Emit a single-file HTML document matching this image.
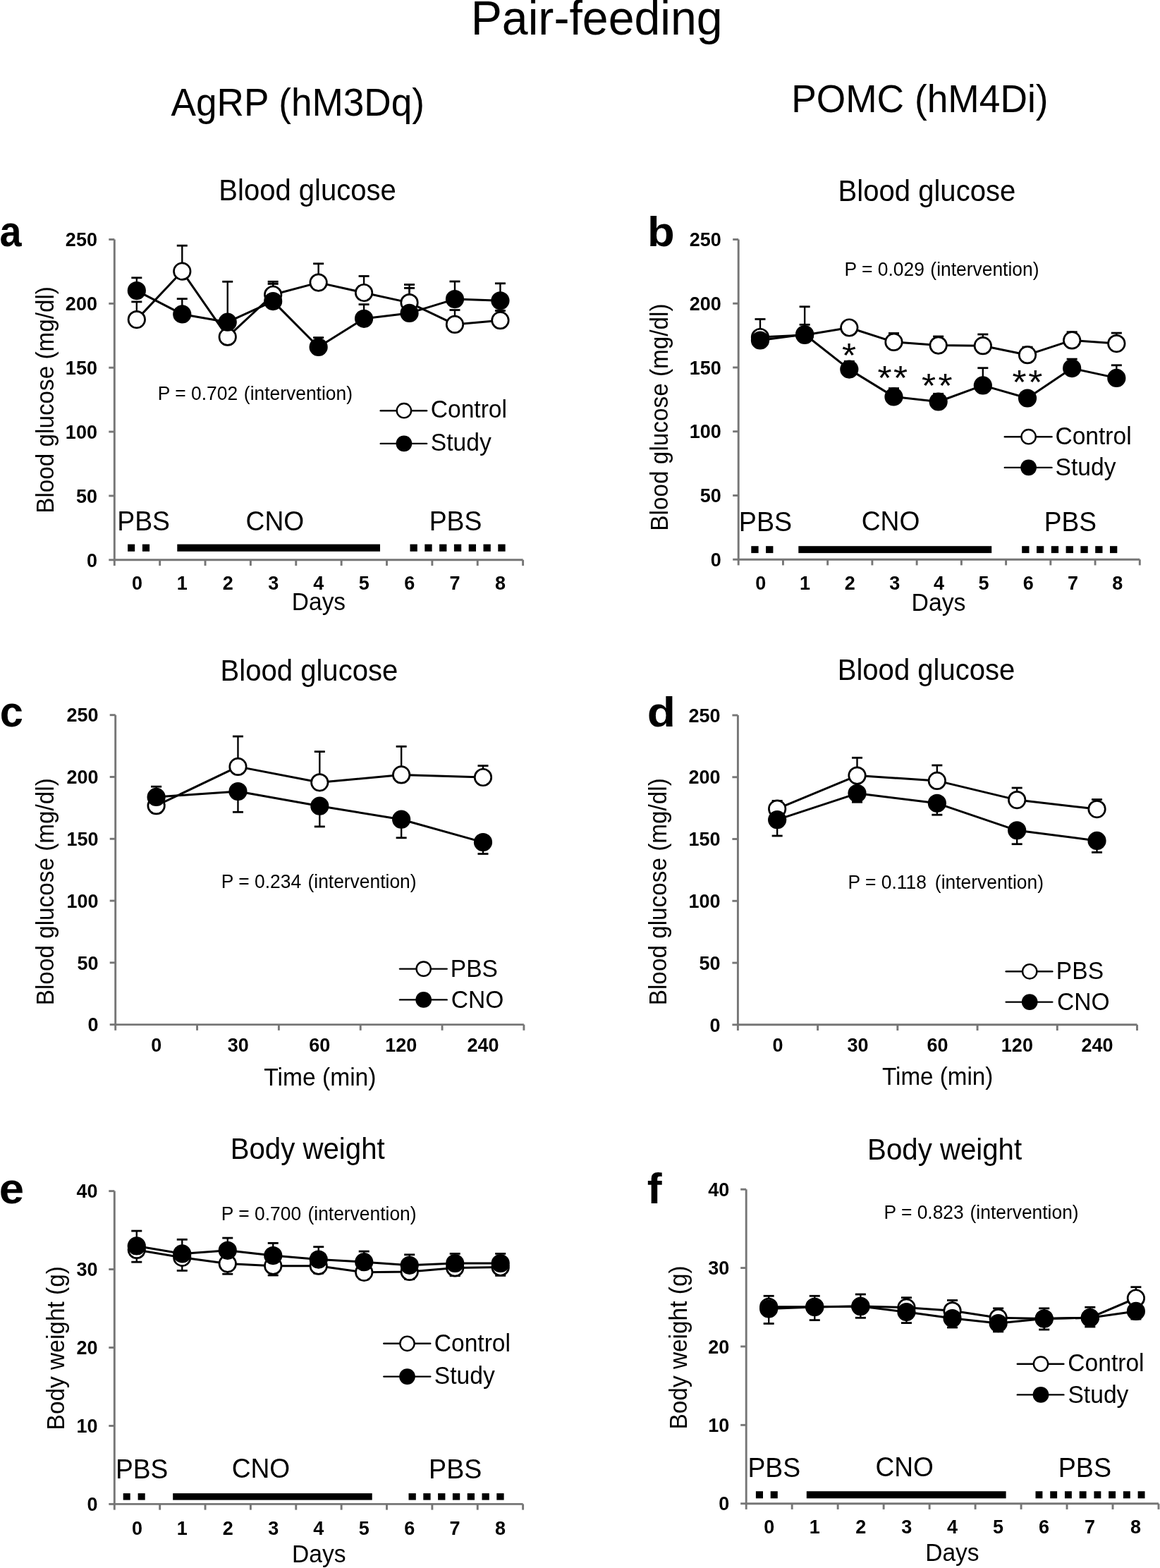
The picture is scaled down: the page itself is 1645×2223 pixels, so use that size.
<!DOCTYPE html><html><head><meta charset="utf-8"><style>html,body{margin:0;padding:0;background:#fff;width:1645px;height:2223px;overflow:hidden;}svg{display:block;}text{font-family:"Liberation Sans",Arial,Helvetica,sans-serif;fill:#000;}</style></head><body>
<svg width="1645" height="2223" viewBox="0 0 1645 2223">
<rect width="1645" height="2223" fill="#fff"/>
<text transform="translate(667.67 48.9) scale(1 1.0450)" font-size="66.22">Pair-feeding</text>
<text transform="translate(242.49 163.5) scale(1 1.0450)" font-size="53.19">AgRP (hM3Dq)</text>
<text transform="translate(1122.13 159.4) scale(1 1.0450)" font-size="53.33">POMC (hM4Di)</text>
<text transform="translate(310.32 283.8) scale(1 1.0450)" font-size="40.04">Blood glucose</text>
<text transform="translate(-0.42 349.49) scale(0.9156 1)" font-size="60.95" font-weight="bold">a</text>
<rect x="181.1" y="771.6" width="10.1" height="10.2"/>
<rect x="201.9" y="771.6" width="10.2" height="10.2"/>
<rect x="581.5" y="771.6" width="10.3" height="10.2"/>
<rect x="602.3" y="771.6" width="10.3" height="10.2"/>
<rect x="623.1" y="771.6" width="10.3" height="10.2"/>
<rect x="643.9" y="771.6" width="10.3" height="10.2"/>
<rect x="664.7" y="771.6" width="10.3" height="10.2"/>
<rect x="685.5" y="771.6" width="10.3" height="10.2"/>
<rect x="706.3" y="771.6" width="10.3" height="10.2"/>
<rect x="251.3" y="771.6" width="287.7" height="10.2"/>
<g stroke="#767676" stroke-width="2.9" fill="none">
<path d="M162.3 339.5V793.8H741.6"/>
<path d="M154.3 793.8H162.3"/>
<path d="M154.3 702.94H162.3"/>
<path d="M154.3 612.08H162.3"/>
<path d="M154.3 521.22H162.3"/>
<path d="M154.3 430.36H162.3"/>
<path d="M154.3 339.5H162.3"/>
<path d="M162.3 793.8V802"/>
<path d="M226.67 793.8V802"/>
<path d="M291.03 793.8V802"/>
<path d="M355.4 793.8V802"/>
<path d="M419.77 793.8V802"/>
<path d="M484.13 793.8V802"/>
<path d="M548.5 793.8V802"/>
<path d="M612.87 793.8V802"/>
<path d="M677.23 793.8V802"/>
<path d="M741.6 793.8V802"/>
</g>
<text transform="translate(122.9 803.51) scale(1 1.0450)" font-size="27" font-weight="bold">0</text>
<text transform="translate(107.88 712.65) scale(1 1.0450)" font-size="27" font-weight="bold">50</text>
<text transform="translate(92.87 621.79) scale(1 1.0450)" font-size="27" font-weight="bold">100</text>
<text transform="translate(92.87 530.93) scale(1 1.0450)" font-size="27" font-weight="bold">150</text>
<text transform="translate(92.87 440.07) scale(1 1.0450)" font-size="27" font-weight="bold">200</text>
<text transform="translate(92.87 349.21) scale(1 1.0450)" font-size="27" font-weight="bold">250</text>
<text transform="translate(186.99 836.4) scale(1 1.0450)" font-size="27" font-weight="bold">0</text>
<text transform="translate(250.87 836.4) scale(1 1.0450)" font-size="27" font-weight="bold">1</text>
<text transform="translate(315.78 836.4) scale(1 1.0450)" font-size="27" font-weight="bold">2</text>
<text transform="translate(380.25 836.4) scale(1 1.0450)" font-size="27" font-weight="bold">3</text>
<text transform="translate(444.31 836.4) scale(1 1.0450)" font-size="27" font-weight="bold">4</text>
<text transform="translate(508.77 836.4) scale(1 1.0450)" font-size="27" font-weight="bold">5</text>
<text transform="translate(573.16 836.4) scale(1 1.0450)" font-size="27" font-weight="bold">6</text>
<text transform="translate(637.56 836.4) scale(1 1.0450)" font-size="27" font-weight="bold">7</text>
<text transform="translate(701.9 836.4) scale(1 1.0450)" font-size="27" font-weight="bold">8</text>
<text transform="translate(413.86 864.9) scale(1 1.0450)" font-size="33.47">Days</text>
<text transform="translate(75.9 727.73) rotate(-90) scale(1 1.0450)" font-size="33.28">Blood glucose (mg/dl)</text>
<text transform="translate(223.84 567.1) scale(1 1.0450)" font-size="26.4">P = 0.702</text>
<text transform="translate(345.87 567.1) scale(1 1.0450)" font-size="26.4">(intervention)</text>
<text transform="translate(166.24 751.6) scale(1 1.0450)" font-size="37.37">PBS</text>
<text transform="translate(348.6 751.6) scale(1 1.0450)" font-size="37.21">CNO</text>
<text transform="translate(608.64 751.8) scale(1 1.0450)" font-size="37.37">PBS</text>
<polyline points="193.83,453.1 258.28,384.7 322.73,477.7 387.18,417.75 451.63,400.6 516.08,415 580.53,429.1 644.98,459.9 709.43,454.2" fill="none" stroke="#000" stroke-width="3.0" stroke-linejoin="round"/>
<polyline points="193.83,412.1 258.28,445.4 322.73,456.7 387.18,427.1 451.63,492 516.08,451.8 580.53,443.9 644.98,424.1 709.43,426.3" fill="none" stroke="#000" stroke-width="3.0" stroke-linejoin="round"/>
<line x1="193.83" y1="453.1" x2="193.83" y2="427.9" stroke="#000" stroke-width="2.4"/>
<rect x="186.33" y="426.5" width="15" height="2.8"/>
<line x1="258.28" y1="384.7" x2="258.28" y2="348.2" stroke="#000" stroke-width="2.4"/>
<rect x="250.78" y="346.8" width="15" height="2.8"/>
<line x1="322.73" y1="477.7" x2="322.73" y2="399.3" stroke="#000" stroke-width="2.4"/>
<rect x="315.23" y="397.9" width="15" height="2.8"/>
<line x1="387.18" y1="417.75" x2="387.18" y2="399.3" stroke="#000" stroke-width="2.4"/>
<rect x="379.68" y="397.9" width="15" height="2.8"/>
<line x1="451.63" y1="400.6" x2="451.63" y2="373.8" stroke="#000" stroke-width="2.4"/>
<rect x="444.13" y="372.4" width="15" height="2.8"/>
<line x1="516.08" y1="415" x2="516.08" y2="391.5" stroke="#000" stroke-width="2.4"/>
<rect x="508.58" y="390.1" width="15" height="2.8"/>
<line x1="580.53" y1="429.1" x2="580.53" y2="403.5" stroke="#000" stroke-width="2.4"/>
<rect x="573.03" y="402.1" width="15" height="2.8"/>
<line x1="644.98" y1="459.9" x2="644.98" y2="439.5" stroke="#000" stroke-width="2.4"/>
<rect x="637.48" y="438.1" width="15" height="2.8"/>
<line x1="709.43" y1="454.2" x2="709.43" y2="440.5" stroke="#000" stroke-width="2.4"/>
<rect x="701.93" y="439.1" width="15" height="2.8"/>
<line x1="193.83" y1="412.1" x2="193.83" y2="393.8" stroke="#000" stroke-width="2.4"/>
<rect x="186.33" y="392.4" width="15" height="2.8"/>
<line x1="258.28" y1="445.4" x2="258.28" y2="423.6" stroke="#000" stroke-width="2.4"/>
<rect x="250.78" y="422.2" width="15" height="2.8"/>
<line x1="387.18" y1="427.1" x2="387.18" y2="402.4" stroke="#000" stroke-width="2.4"/>
<rect x="379.68" y="401" width="15" height="2.8"/>
<line x1="451.63" y1="492" x2="451.63" y2="478.6" stroke="#000" stroke-width="2.4"/>
<rect x="444.13" y="477.2" width="15" height="2.8"/>
<line x1="516.08" y1="451.8" x2="516.08" y2="431.6" stroke="#000" stroke-width="2.4"/>
<rect x="508.58" y="430.2" width="15" height="2.8"/>
<line x1="580.53" y1="443.9" x2="580.53" y2="408.4" stroke="#000" stroke-width="2.4"/>
<rect x="573.03" y="407" width="15" height="2.8"/>
<line x1="644.98" y1="424.1" x2="644.98" y2="399" stroke="#000" stroke-width="2.4"/>
<rect x="637.48" y="397.6" width="15" height="2.8"/>
<line x1="709.43" y1="426.3" x2="709.43" y2="401.8" stroke="#000" stroke-width="2.4"/>
<rect x="701.93" y="400.4" width="15" height="2.8"/>
<circle cx="193.83" cy="453.1" r="11.75" fill="#fff" stroke="#000" stroke-width="2.7"/>
<circle cx="258.28" cy="384.7" r="11.75" fill="#fff" stroke="#000" stroke-width="2.7"/>
<circle cx="322.73" cy="477.7" r="11.75" fill="#fff" stroke="#000" stroke-width="2.7"/>
<circle cx="387.18" cy="417.75" r="11.75" fill="#fff" stroke="#000" stroke-width="2.7"/>
<circle cx="451.63" cy="400.6" r="11.75" fill="#fff" stroke="#000" stroke-width="2.7"/>
<circle cx="516.08" cy="415" r="11.75" fill="#fff" stroke="#000" stroke-width="2.7"/>
<circle cx="580.53" cy="429.1" r="11.75" fill="#fff" stroke="#000" stroke-width="2.7"/>
<circle cx="644.98" cy="459.9" r="11.75" fill="#fff" stroke="#000" stroke-width="2.7"/>
<circle cx="709.43" cy="454.2" r="11.75" fill="#fff" stroke="#000" stroke-width="2.7"/>
<circle cx="193.83" cy="412.1" r="13.1"/>
<circle cx="258.28" cy="445.4" r="13.1"/>
<circle cx="322.73" cy="456.7" r="13.1"/>
<circle cx="387.18" cy="427.1" r="13.1"/>
<circle cx="451.63" cy="492" r="13.1"/>
<circle cx="516.08" cy="451.8" r="13.1"/>
<circle cx="580.53" cy="443.9" r="13.1"/>
<circle cx="644.98" cy="424.1" r="13.1"/>
<circle cx="709.43" cy="426.3" r="13.1"/>
<line x1="539.7" y1="582.2" x2="605.1" y2="582.2" stroke="#000" stroke-width="2.4" stroke-linecap="round"/>
<circle cx="572.9" cy="582.2" r="10.15" fill="#fff" stroke="#000" stroke-width="2.4"/>
<text transform="translate(610.69 592.3) scale(1 1.0450)" font-size="33.6">Control</text>
<line x1="539.7" y1="628.9" x2="605.1" y2="628.9" stroke="#000" stroke-width="2.4" stroke-linecap="round"/>
<circle cx="572.9" cy="628.9" r="11.35"/>
<text transform="translate(610.85 639) scale(1 1.0450)" font-size="33.6">Study</text>
<text transform="translate(1188.61 284.7) scale(1 1.0450)" font-size="40.07">Blood glucose</text>
<text transform="translate(918.02 349.21) scale(1.0645 1)" font-size="59.46" font-weight="bold">b</text>
<rect x="1065.3" y="774.2" width="10.3" height="9.9"/>
<rect x="1086.1" y="774.2" width="10.3" height="9.9"/>
<rect x="1449.2" y="774.2" width="10.3" height="9.9"/>
<rect x="1470" y="774.2" width="10.3" height="9.9"/>
<rect x="1490.8" y="774.2" width="10.3" height="9.9"/>
<rect x="1511.6" y="774.2" width="10.3" height="9.9"/>
<rect x="1532.4" y="774.2" width="10.3" height="9.9"/>
<rect x="1553.2" y="774.2" width="10.3" height="9.9"/>
<rect x="1574" y="774.2" width="10.3" height="9.9"/>
<rect x="1132.3" y="774.2" width="273.9" height="9.9"/>
<g stroke="#767676" stroke-width="2.9" fill="none">
<path d="M1047.2 339.5V793.2H1616.3"/>
<path d="M1039.2 793.2H1047.2"/>
<path d="M1039.2 702.46H1047.2"/>
<path d="M1039.2 611.72H1047.2"/>
<path d="M1039.2 520.98H1047.2"/>
<path d="M1039.2 430.24H1047.2"/>
<path d="M1039.2 339.5H1047.2"/>
<path d="M1047.2 793.2V801.4"/>
<path d="M1110.43 793.2V801.4"/>
<path d="M1173.67 793.2V801.4"/>
<path d="M1236.9 793.2V801.4"/>
<path d="M1300.13 793.2V801.4"/>
<path d="M1363.37 793.2V801.4"/>
<path d="M1426.6 793.2V801.4"/>
<path d="M1489.83 793.2V801.4"/>
<path d="M1553.07 793.2V801.4"/>
<path d="M1616.3 793.2V801.4"/>
</g>
<text transform="translate(1007.69 802.91) scale(1 1.0450)" font-size="27" font-weight="bold">0</text>
<text transform="translate(992.68 712.17) scale(1 1.0450)" font-size="27" font-weight="bold">50</text>
<text transform="translate(977.67 621.43) scale(1 1.0450)" font-size="27" font-weight="bold">100</text>
<text transform="translate(977.67 530.69) scale(1 1.0450)" font-size="27" font-weight="bold">150</text>
<text transform="translate(977.67 439.95) scale(1 1.0450)" font-size="27" font-weight="bold">200</text>
<text transform="translate(977.67 349.21) scale(1 1.0450)" font-size="27" font-weight="bold">250</text>
<text transform="translate(1071.32 836.3) scale(1 1.0450)" font-size="27" font-weight="bold">0</text>
<text transform="translate(1134.07 836.3) scale(1 1.0450)" font-size="27" font-weight="bold">1</text>
<text transform="translate(1197.84 836.3) scale(1 1.0450)" font-size="27" font-weight="bold">2</text>
<text transform="translate(1261.19 836.3) scale(1 1.0450)" font-size="27" font-weight="bold">3</text>
<text transform="translate(1324.11 836.3) scale(1 1.0450)" font-size="27" font-weight="bold">4</text>
<text transform="translate(1387.44 836.3) scale(1 1.0450)" font-size="27" font-weight="bold">5</text>
<text transform="translate(1450.7 836.3) scale(1 1.0450)" font-size="27" font-weight="bold">6</text>
<text transform="translate(1513.96 836.3) scale(1 1.0450)" font-size="27" font-weight="bold">7</text>
<text transform="translate(1577.16 836.3) scale(1 1.0450)" font-size="27" font-weight="bold">8</text>
<text transform="translate(1292.53 865.8) scale(1 1.0450)" font-size="33.8">Days</text>
<text transform="translate(947.1 752.63) rotate(-90) scale(1 1.0450)" font-size="33.33">Blood glucose (mg/dl)</text>
<text transform="translate(1197.54 391) scale(1 1.0450)" font-size="26.4">P = 0.029</text>
<text transform="translate(1319.37 391) scale(1 1.0450)" font-size="26.4">(intervention)</text>
<text transform="translate(1047.81 752.8) scale(1 1.0450)" font-size="37.69">PBS</text>
<text transform="translate(1221.7 752.3) scale(1 1.0450)" font-size="37.21">CNO</text>
<text transform="translate(1480.86 753.4) scale(1 1.0450)" font-size="37.11">PBS</text>
<polyline points="1077.98,478 1141.15,475 1204.32,464.5 1267.49,484.9 1330.66,489.6 1393.83,490.2 1457,503.2 1520.17,482.4 1583.34,487.1" fill="none" stroke="#000" stroke-width="3.0" stroke-linejoin="round"/>
<polyline points="1077.98,482.5 1141.15,474 1204.32,523.6 1267.49,562.4 1330.66,569.5 1393.83,546.4 1457,564.5 1520.17,522.1 1583.34,535.9" fill="none" stroke="#000" stroke-width="3.0" stroke-linejoin="round"/>
<line x1="1077.98" y1="478" x2="1077.98" y2="452.5" stroke="#000" stroke-width="2.4"/>
<rect x="1070.48" y="451.1" width="15" height="2.8"/>
<line x1="1141.15" y1="475" x2="1141.15" y2="434.8" stroke="#000" stroke-width="2.4"/>
<rect x="1133.65" y="433.4" width="15" height="2.8"/>
<line x1="1267.49" y1="484.9" x2="1267.49" y2="472.5" stroke="#000" stroke-width="2.4"/>
<rect x="1259.99" y="471.1" width="15" height="2.8"/>
<line x1="1330.66" y1="489.6" x2="1330.66" y2="477" stroke="#000" stroke-width="2.4"/>
<rect x="1323.16" y="475.6" width="15" height="2.8"/>
<line x1="1393.83" y1="490.2" x2="1393.83" y2="474" stroke="#000" stroke-width="2.4"/>
<rect x="1386.33" y="472.6" width="15" height="2.8"/>
<line x1="1457" y1="503.2" x2="1457" y2="492.1" stroke="#000" stroke-width="2.4"/>
<rect x="1449.5" y="490.7" width="15" height="2.8"/>
<line x1="1520.17" y1="482.4" x2="1520.17" y2="470.7" stroke="#000" stroke-width="2.4"/>
<rect x="1512.67" y="469.3" width="15" height="2.8"/>
<line x1="1583.34" y1="487.1" x2="1583.34" y2="472.1" stroke="#000" stroke-width="2.4"/>
<rect x="1575.84" y="470.7" width="15" height="2.8"/>
<line x1="1141.15" y1="474" x2="1141.15" y2="460.3" stroke="#000" stroke-width="2.4"/>
<rect x="1133.65" y="458.9" width="15" height="2.8"/>
<line x1="1204.32" y1="523.6" x2="1204.32" y2="512.3" stroke="#000" stroke-width="2.4"/>
<rect x="1196.82" y="510.9" width="15" height="2.8"/>
<line x1="1267.49" y1="562.4" x2="1267.49" y2="550.6" stroke="#000" stroke-width="2.4"/>
<rect x="1259.99" y="549.2" width="15" height="2.8"/>
<line x1="1330.66" y1="569.5" x2="1330.66" y2="558.3" stroke="#000" stroke-width="2.4"/>
<rect x="1323.16" y="556.9" width="15" height="2.8"/>
<line x1="1393.83" y1="546.4" x2="1393.83" y2="521.7" stroke="#000" stroke-width="2.4"/>
<rect x="1386.33" y="520.3" width="15" height="2.8"/>
<line x1="1520.17" y1="522.1" x2="1520.17" y2="509.1" stroke="#000" stroke-width="2.4"/>
<rect x="1512.67" y="507.7" width="15" height="2.8"/>
<line x1="1583.34" y1="535.9" x2="1583.34" y2="517.8" stroke="#000" stroke-width="2.4"/>
<rect x="1575.84" y="516.4" width="15" height="2.8"/>
<circle cx="1077.98" cy="478" r="11.75" fill="#fff" stroke="#000" stroke-width="2.7"/>
<circle cx="1141.15" cy="475" r="11.75" fill="#fff" stroke="#000" stroke-width="2.7"/>
<circle cx="1204.32" cy="464.5" r="11.75" fill="#fff" stroke="#000" stroke-width="2.7"/>
<circle cx="1267.49" cy="484.9" r="11.75" fill="#fff" stroke="#000" stroke-width="2.7"/>
<circle cx="1330.66" cy="489.6" r="11.75" fill="#fff" stroke="#000" stroke-width="2.7"/>
<circle cx="1393.83" cy="490.2" r="11.75" fill="#fff" stroke="#000" stroke-width="2.7"/>
<circle cx="1457" cy="503.2" r="11.75" fill="#fff" stroke="#000" stroke-width="2.7"/>
<circle cx="1520.17" cy="482.4" r="11.75" fill="#fff" stroke="#000" stroke-width="2.7"/>
<circle cx="1583.34" cy="487.1" r="11.75" fill="#fff" stroke="#000" stroke-width="2.7"/>
<circle cx="1077.98" cy="482.5" r="13.1"/>
<circle cx="1141.15" cy="474" r="13.1"/>
<circle cx="1204.32" cy="523.6" r="13.1"/>
<circle cx="1267.49" cy="562.4" r="13.1"/>
<circle cx="1330.66" cy="569.5" r="13.1"/>
<circle cx="1393.83" cy="546.4" r="13.1"/>
<circle cx="1457" cy="564.5" r="13.1"/>
<circle cx="1520.17" cy="522.1" r="13.1"/>
<circle cx="1583.34" cy="535.9" r="13.1"/>
<line x1="1424.8" y1="619.2" x2="1491.5" y2="619.2" stroke="#000" stroke-width="2.4" stroke-linecap="round"/>
<circle cx="1458.6" cy="619.2" r="10.15" fill="#fff" stroke="#000" stroke-width="2.4"/>
<text transform="translate(1496.39 630.1) scale(1 1.0450)" font-size="33.6">Control</text>
<line x1="1424.8" y1="662.9" x2="1491.5" y2="662.9" stroke="#000" stroke-width="2.4" stroke-linecap="round"/>
<circle cx="1458.6" cy="662.9" r="11.35"/>
<text transform="translate(1496.55 673.9) scale(1 1.0450)" font-size="33.6">Study</text>
<text transform="translate(1193.88 519.73) scale(1 0.9239)" font-size="51.5" letter-spacing="0">*</text>
<text transform="translate(1244.38 551.53) scale(1 0.9239)" font-size="51.5" letter-spacing="2.67">**</text>
<text transform="translate(1306.98 562.63) scale(1 0.9239)" font-size="51.5" letter-spacing="3.37">**</text>
<text transform="translate(1435.38 558.13) scale(1 0.9239)" font-size="51.5" letter-spacing="2.77">**</text>
<text transform="translate(312.61 964.7) scale(1 1.0450)" font-size="40.07">Blood glucose</text>
<text transform="translate(-0.33 1030.4) scale(0.9872 1)" font-size="60.4" font-weight="bold">c</text>
<g stroke="#767676" stroke-width="2.9" fill="none">
<path d="M163.7 1013.7V1452.6H742.9"/>
<path d="M155.7 1452.6H163.7"/>
<path d="M155.7 1364.82H163.7"/>
<path d="M155.7 1277.04H163.7"/>
<path d="M155.7 1189.26H163.7"/>
<path d="M155.7 1101.48H163.7"/>
<path d="M155.7 1013.7H163.7"/>
<path d="M163.7 1452.6V1460.8"/>
<path d="M279.54 1452.6V1460.8"/>
<path d="M395.38 1452.6V1460.8"/>
<path d="M511.22 1452.6V1460.8"/>
<path d="M627.06 1452.6V1460.8"/>
<path d="M742.9 1452.6V1460.8"/>
</g>
<text transform="translate(124.59 1462.31) scale(1 1.0450)" font-size="27" font-weight="bold">0</text>
<text transform="translate(109.58 1374.53) scale(1 1.0450)" font-size="27" font-weight="bold">50</text>
<text transform="translate(94.57 1286.75) scale(1 1.0450)" font-size="27" font-weight="bold">100</text>
<text transform="translate(94.57 1198.97) scale(1 1.0450)" font-size="27" font-weight="bold">150</text>
<text transform="translate(94.57 1111.19) scale(1 1.0450)" font-size="27" font-weight="bold">200</text>
<text transform="translate(94.57 1023.41) scale(1 1.0450)" font-size="27" font-weight="bold">250</text>
<text transform="translate(214.13 1491.2) scale(1 1.0450)" font-size="27" font-weight="bold">0</text>
<text transform="translate(322.69 1491.2) scale(1 1.0450)" font-size="27" font-weight="bold">30</text>
<text transform="translate(438.34 1491.2) scale(1 1.0450)" font-size="27" font-weight="bold">60</text>
<text transform="translate(546.33 1491.2) scale(1 1.0450)" font-size="27" font-weight="bold">120</text>
<text transform="translate(662.54 1491.2) scale(1 1.0450)" font-size="27" font-weight="bold">240</text>
<text transform="translate(374.36 1539) scale(1 1.0450)" font-size="33.57">Time (min)</text>
<text transform="translate(76.1 1425.23) rotate(-90) scale(1 1.0450)" font-size="33.31">Blood glucose (mg/dl)</text>
<text transform="translate(313.84 1258.8) scale(1 1.0450)" font-size="26.4">P = 0.234</text>
<text transform="translate(436.47 1258.8) scale(1 1.0450)" font-size="26.4">(intervention)</text>
<polyline points="221.62,1142.2 337.46,1086.9 453.3,1109.3 569.14,1098.4 684.98,1102" fill="none" stroke="#000" stroke-width="3.0" stroke-linejoin="round"/>
<polyline points="221.62,1129.9 337.46,1122.1 453.3,1142.7 569.14,1161.7 684.98,1194.1" fill="none" stroke="#000" stroke-width="3.0" stroke-linejoin="round"/>
<line x1="221.62" y1="1142.2" x2="221.62" y2="1115.2" stroke="#000" stroke-width="2.4"/>
<rect x="214.12" y="1113.8" width="15" height="2.8"/>
<line x1="337.46" y1="1086.9" x2="337.46" y2="1044" stroke="#000" stroke-width="2.4"/>
<rect x="329.96" y="1042.6" width="15" height="2.8"/>
<line x1="453.3" y1="1109.3" x2="453.3" y2="1065.6" stroke="#000" stroke-width="2.4"/>
<rect x="445.8" y="1064.2" width="15" height="2.8"/>
<line x1="569.14" y1="1098.4" x2="569.14" y2="1058.3" stroke="#000" stroke-width="2.4"/>
<rect x="561.64" y="1056.9" width="15" height="2.8"/>
<line x1="684.98" y1="1102" x2="684.98" y2="1085.6" stroke="#000" stroke-width="2.4"/>
<rect x="677.48" y="1084.2" width="15" height="2.8"/>
<line x1="221.62" y1="1129.9" x2="221.62" y2="1152" stroke="#000" stroke-width="2.4"/>
<rect x="214.12" y="1150.6" width="15" height="2.8"/>
<line x1="337.46" y1="1122.1" x2="337.46" y2="1151.3" stroke="#000" stroke-width="2.4"/>
<rect x="329.96" y="1149.9" width="15" height="2.8"/>
<line x1="453.3" y1="1142.7" x2="453.3" y2="1171.9" stroke="#000" stroke-width="2.4"/>
<rect x="445.8" y="1170.5" width="15" height="2.8"/>
<line x1="569.14" y1="1161.7" x2="569.14" y2="1187.8" stroke="#000" stroke-width="2.4"/>
<rect x="561.64" y="1186.4" width="15" height="2.8"/>
<line x1="684.98" y1="1194.1" x2="684.98" y2="1210.5" stroke="#000" stroke-width="2.4"/>
<rect x="677.48" y="1209.1" width="15" height="2.8"/>
<circle cx="221.62" cy="1142.2" r="11.75" fill="#fff" stroke="#000" stroke-width="2.7"/>
<circle cx="337.46" cy="1086.9" r="11.75" fill="#fff" stroke="#000" stroke-width="2.7"/>
<circle cx="453.3" cy="1109.3" r="11.75" fill="#fff" stroke="#000" stroke-width="2.7"/>
<circle cx="569.14" cy="1098.4" r="11.75" fill="#fff" stroke="#000" stroke-width="2.7"/>
<circle cx="684.98" cy="1102" r="11.75" fill="#fff" stroke="#000" stroke-width="2.7"/>
<circle cx="221.62" cy="1129.9" r="13.1"/>
<circle cx="337.46" cy="1122.1" r="13.1"/>
<circle cx="453.3" cy="1142.7" r="13.1"/>
<circle cx="569.14" cy="1161.7" r="13.1"/>
<circle cx="684.98" cy="1194.1" r="13.1"/>
<line x1="567" y1="1373.6" x2="633.7" y2="1373.6" stroke="#000" stroke-width="2.4" stroke-linecap="round"/>
<circle cx="600.7" cy="1373.6" r="10.15" fill="#fff" stroke="#000" stroke-width="2.4"/>
<text transform="translate(638.74 1384.8) scale(1 1.0450)" font-size="33.6">PBS</text>
<line x1="567" y1="1417.4" x2="633.7" y2="1417.4" stroke="#000" stroke-width="2.4" stroke-linecap="round"/>
<circle cx="600.7" cy="1417.4" r="11.35"/>
<text transform="translate(639.79 1428.6) scale(1 1.0450)" font-size="33.6">CNO</text>
<text transform="translate(1187.71 963.9) scale(1 1.0450)" font-size="40.07">Blood glucose</text>
<text transform="translate(917.7 1029.71) scale(1.1156 1)" font-size="59.05" font-weight="bold">d</text>
<g stroke="#767676" stroke-width="2.9" fill="none">
<path d="M1046.4 1014V1452.8H1612.5"/>
<path d="M1038.4 1452.8H1046.4"/>
<path d="M1038.4 1365.04H1046.4"/>
<path d="M1038.4 1277.28H1046.4"/>
<path d="M1038.4 1189.52H1046.4"/>
<path d="M1038.4 1101.76H1046.4"/>
<path d="M1038.4 1014H1046.4"/>
<path d="M1046.4 1452.8V1461"/>
<path d="M1159.62 1452.8V1461"/>
<path d="M1272.84 1452.8V1461"/>
<path d="M1386.06 1452.8V1461"/>
<path d="M1499.28 1452.8V1461"/>
<path d="M1612.5 1452.8V1461"/>
</g>
<text transform="translate(1006.59 1462.51) scale(1 1.0450)" font-size="27" font-weight="bold">0</text>
<text transform="translate(991.58 1374.75) scale(1 1.0450)" font-size="27" font-weight="bold">50</text>
<text transform="translate(976.57 1286.99) scale(1 1.0450)" font-size="27" font-weight="bold">100</text>
<text transform="translate(976.57 1199.23) scale(1 1.0450)" font-size="27" font-weight="bold">150</text>
<text transform="translate(976.57 1111.47) scale(1 1.0450)" font-size="27" font-weight="bold">200</text>
<text transform="translate(976.57 1023.71) scale(1 1.0450)" font-size="27" font-weight="bold">250</text>
<text transform="translate(1095.52 1490.5) scale(1 1.0450)" font-size="27" font-weight="bold">0</text>
<text transform="translate(1201.46 1490.5) scale(1 1.0450)" font-size="27" font-weight="bold">30</text>
<text transform="translate(1314.49 1490.5) scale(1 1.0450)" font-size="27" font-weight="bold">60</text>
<text transform="translate(1419.86 1490.5) scale(1 1.0450)" font-size="27" font-weight="bold">120</text>
<text transform="translate(1533.45 1490.5) scale(1 1.0450)" font-size="27" font-weight="bold">240</text>
<text transform="translate(1251.07 1537.5) scale(1 1.0450)" font-size="33.2">Time (min)</text>
<text transform="translate(945.3 1425.23) rotate(-90) scale(1 1.0450)" font-size="33.31">Blood glucose (mg/dl)</text>
<text transform="translate(1202.54 1259.6) scale(1 1.0450)" font-size="26.4">P = 0.118</text>
<text transform="translate(1325.87 1259.6) scale(1 1.0450)" font-size="26.4">(intervention)</text>
<polyline points="1102.16,1146.7 1215.5,1099.6 1328.84,1106.9 1442.18,1134.1 1555.52,1147.1" fill="none" stroke="#000" stroke-width="3.0" stroke-linejoin="round"/>
<polyline points="1102.16,1162.2 1215.5,1124.8 1328.84,1138.8 1442.18,1177.3 1555.52,1191.9" fill="none" stroke="#000" stroke-width="3.0" stroke-linejoin="round"/>
<line x1="1102.16" y1="1146.7" x2="1102.16" y2="1135.4" stroke="#000" stroke-width="2.4"/>
<rect x="1094.66" y="1134" width="15" height="2.8"/>
<line x1="1215.5" y1="1099.6" x2="1215.5" y2="1074.3" stroke="#000" stroke-width="2.4"/>
<rect x="1208" y="1072.9" width="15" height="2.8"/>
<line x1="1328.84" y1="1106.9" x2="1328.84" y2="1085" stroke="#000" stroke-width="2.4"/>
<rect x="1321.34" y="1083.6" width="15" height="2.8"/>
<line x1="1442.18" y1="1134.1" x2="1442.18" y2="1117" stroke="#000" stroke-width="2.4"/>
<rect x="1434.68" y="1115.6" width="15" height="2.8"/>
<line x1="1555.52" y1="1147.1" x2="1555.52" y2="1133.5" stroke="#000" stroke-width="2.4"/>
<rect x="1548.02" y="1132.1" width="15" height="2.8"/>
<line x1="1102.16" y1="1162.2" x2="1102.16" y2="1185" stroke="#000" stroke-width="2.4"/>
<rect x="1094.66" y="1183.6" width="15" height="2.8"/>
<line x1="1215.5" y1="1124.8" x2="1215.5" y2="1137.2" stroke="#000" stroke-width="2.4"/>
<rect x="1208" y="1135.8" width="15" height="2.8"/>
<line x1="1328.84" y1="1138.8" x2="1328.84" y2="1155.2" stroke="#000" stroke-width="2.4"/>
<rect x="1321.34" y="1153.8" width="15" height="2.8"/>
<line x1="1442.18" y1="1177.3" x2="1442.18" y2="1196.7" stroke="#000" stroke-width="2.4"/>
<rect x="1434.68" y="1195.3" width="15" height="2.8"/>
<line x1="1555.52" y1="1191.9" x2="1555.52" y2="1208.4" stroke="#000" stroke-width="2.4"/>
<rect x="1548.02" y="1207" width="15" height="2.8"/>
<circle cx="1102.16" cy="1146.7" r="11.75" fill="#fff" stroke="#000" stroke-width="2.7"/>
<circle cx="1215.5" cy="1099.6" r="11.75" fill="#fff" stroke="#000" stroke-width="2.7"/>
<circle cx="1328.84" cy="1106.9" r="11.75" fill="#fff" stroke="#000" stroke-width="2.7"/>
<circle cx="1442.18" cy="1134.1" r="11.75" fill="#fff" stroke="#000" stroke-width="2.7"/>
<circle cx="1555.52" cy="1147.1" r="11.75" fill="#fff" stroke="#000" stroke-width="2.7"/>
<circle cx="1102.16" cy="1162.2" r="13.1"/>
<circle cx="1215.5" cy="1124.8" r="13.1"/>
<circle cx="1328.84" cy="1138.8" r="13.1"/>
<circle cx="1442.18" cy="1177.3" r="13.1"/>
<circle cx="1555.52" cy="1191.9" r="13.1"/>
<line x1="1426.7" y1="1377.3" x2="1492.3" y2="1377.3" stroke="#000" stroke-width="2.4" stroke-linecap="round"/>
<circle cx="1460.2" cy="1377.3" r="10.15" fill="#fff" stroke="#000" stroke-width="2.4"/>
<text transform="translate(1497.84 1388) scale(1 1.0450)" font-size="33.6">PBS</text>
<line x1="1426.7" y1="1420.6" x2="1492.3" y2="1420.6" stroke="#000" stroke-width="2.4" stroke-linecap="round"/>
<circle cx="1460.2" cy="1420.6" r="11.35"/>
<text transform="translate(1498.89 1431.8) scale(1 1.0450)" font-size="33.6">CNO</text>
<text transform="translate(326.7 1643.3) scale(1 1.0450)" font-size="40.21">Body weight</text>
<text transform="translate(-1.28 1706.19) scale(1.0429 1)" font-size="60.95" font-weight="bold">e</text>
<rect x="174.7" y="2117.1" width="10" height="9.5"/>
<rect x="195.6" y="2117.1" width="10.1" height="9.5"/>
<rect x="579.5" y="2117.1" width="10.3" height="9.5"/>
<rect x="600.3" y="2117.1" width="10.3" height="9.5"/>
<rect x="621.1" y="2117.1" width="10.3" height="9.5"/>
<rect x="641.9" y="2117.1" width="10.3" height="9.5"/>
<rect x="662.7" y="2117.1" width="10.3" height="9.5"/>
<rect x="683.5" y="2117.1" width="10.3" height="9.5"/>
<rect x="704.3" y="2117.1" width="10.3" height="9.5"/>
<rect x="245.2" y="2117.1" width="282.5" height="9.5"/>
<g stroke="#767676" stroke-width="2.9" fill="none">
<path d="M162.3 1688.6V2132.4H741.6"/>
<path d="M154.3 2132.4H162.3"/>
<path d="M154.3 2021.45H162.3"/>
<path d="M154.3 1910.5H162.3"/>
<path d="M154.3 1799.55H162.3"/>
<path d="M154.3 1688.6H162.3"/>
<path d="M162.3 2132.4V2140.6"/>
<path d="M226.67 2132.4V2140.6"/>
<path d="M291.03 2132.4V2140.6"/>
<path d="M355.4 2132.4V2140.6"/>
<path d="M419.77 2132.4V2140.6"/>
<path d="M484.13 2132.4V2140.6"/>
<path d="M548.5 2132.4V2140.6"/>
<path d="M612.87 2132.4V2140.6"/>
<path d="M677.23 2132.4V2140.6"/>
<path d="M741.6 2132.4V2140.6"/>
</g>
<text transform="translate(123.5 2142.11) scale(1 1.0450)" font-size="27" font-weight="bold">0</text>
<text transform="translate(108.48 2031.16) scale(1 1.0450)" font-size="27" font-weight="bold">10</text>
<text transform="translate(108.48 1920.21) scale(1 1.0450)" font-size="27" font-weight="bold">20</text>
<text transform="translate(108.48 1809.24) scale(1 1.0450)" font-size="27" font-weight="bold">30</text>
<text transform="translate(108.48 1698.31) scale(1 1.0450)" font-size="27" font-weight="bold">40</text>
<text transform="translate(186.99 2175.8) scale(1 1.0450)" font-size="27" font-weight="bold">0</text>
<text transform="translate(250.87 2175.8) scale(1 1.0450)" font-size="27" font-weight="bold">1</text>
<text transform="translate(315.78 2175.8) scale(1 1.0450)" font-size="27" font-weight="bold">2</text>
<text transform="translate(380.25 2175.8) scale(1 1.0450)" font-size="27" font-weight="bold">3</text>
<text transform="translate(444.31 2175.8) scale(1 1.0450)" font-size="27" font-weight="bold">4</text>
<text transform="translate(508.77 2175.8) scale(1 1.0450)" font-size="27" font-weight="bold">5</text>
<text transform="translate(573.16 2175.8) scale(1 1.0450)" font-size="27" font-weight="bold">6</text>
<text transform="translate(637.56 2175.8) scale(1 1.0450)" font-size="27" font-weight="bold">7</text>
<text transform="translate(701.9 2175.8) scale(1 1.0450)" font-size="27" font-weight="bold">8</text>
<text transform="translate(414.04 2214.9) scale(1 1.0450)" font-size="33.61">Days</text>
<text transform="translate(90.8 2027.44) rotate(-90) scale(1 1.0450)" font-size="33.47">Body weight (g)</text>
<text transform="translate(313.84 1729.7) scale(1 1.0450)" font-size="26.4">P = 0.700</text>
<text transform="translate(436.47 1729.7) scale(1 1.0450)" font-size="26.4">(intervention)</text>
<text transform="translate(163.95 2096) scale(1 1.0450)" font-size="37.21">PBS</text>
<text transform="translate(328.7 2094.7) scale(1 1.0450)" font-size="37.16">CNO</text>
<text transform="translate(608.12 2096.3) scale(1 1.0450)" font-size="37.59">PBS</text>
<polyline points="193.78,1771.9 258.27,1782.8 322.76,1791.6 387.25,1794.7 451.74,1794.7 516.23,1803.8 580.72,1802.9 645.21,1797.4 709.7,1796.5" fill="none" stroke="#000" stroke-width="3.0" stroke-linejoin="round"/>
<polyline points="193.78,1766.4 258.27,1777.4 322.76,1772.8 387.25,1780.1 451.74,1785.6 516.23,1789.2 580.72,1793.8 645.21,1791 709.7,1791" fill="none" stroke="#000" stroke-width="3.0" stroke-linejoin="round"/>
<line x1="193.78" y1="1771.9" x2="193.78" y2="1789.2" stroke="#000" stroke-width="2.4"/>
<rect x="186.28" y="1787.8" width="15" height="2.8"/>
<line x1="258.27" y1="1782.8" x2="258.27" y2="1801.4" stroke="#000" stroke-width="2.4"/>
<rect x="250.77" y="1800" width="15" height="2.8"/>
<line x1="322.76" y1="1791.6" x2="322.76" y2="1806.2" stroke="#000" stroke-width="2.4"/>
<rect x="315.26" y="1804.8" width="15" height="2.8"/>
<line x1="387.25" y1="1794.7" x2="387.25" y2="1808" stroke="#000" stroke-width="2.4"/>
<rect x="379.75" y="1806.6" width="15" height="2.8"/>
<line x1="451.74" y1="1794.7" x2="451.74" y2="1805.1" stroke="#000" stroke-width="2.4"/>
<rect x="444.24" y="1803.7" width="15" height="2.8"/>
<line x1="516.23" y1="1803.8" x2="516.23" y2="1813.8" stroke="#000" stroke-width="2.4"/>
<rect x="508.73" y="1812.4" width="15" height="2.8"/>
<line x1="580.72" y1="1802.9" x2="580.72" y2="1813.5" stroke="#000" stroke-width="2.4"/>
<rect x="573.22" y="1812.1" width="15" height="2.8"/>
<line x1="645.21" y1="1797.4" x2="645.21" y2="1808.7" stroke="#000" stroke-width="2.4"/>
<rect x="637.71" y="1807.3" width="15" height="2.8"/>
<line x1="709.7" y1="1796.5" x2="709.7" y2="1808.4" stroke="#000" stroke-width="2.4"/>
<rect x="702.2" y="1807" width="15" height="2.8"/>
<line x1="193.78" y1="1766.4" x2="193.78" y2="1745.1" stroke="#000" stroke-width="2.4"/>
<rect x="186.28" y="1743.7" width="15" height="2.8"/>
<line x1="258.27" y1="1777.4" x2="258.27" y2="1757.3" stroke="#000" stroke-width="2.4"/>
<rect x="250.77" y="1755.9" width="15" height="2.8"/>
<line x1="322.76" y1="1772.8" x2="322.76" y2="1755.1" stroke="#000" stroke-width="2.4"/>
<rect x="315.26" y="1753.7" width="15" height="2.8"/>
<line x1="387.25" y1="1780.1" x2="387.25" y2="1762.4" stroke="#000" stroke-width="2.4"/>
<rect x="379.75" y="1761" width="15" height="2.8"/>
<line x1="451.74" y1="1785.6" x2="451.74" y2="1767.7" stroke="#000" stroke-width="2.4"/>
<rect x="444.24" y="1766.3" width="15" height="2.8"/>
<line x1="516.23" y1="1789.2" x2="516.23" y2="1774.1" stroke="#000" stroke-width="2.4"/>
<rect x="508.73" y="1772.7" width="15" height="2.8"/>
<line x1="580.72" y1="1793.8" x2="580.72" y2="1778.8" stroke="#000" stroke-width="2.4"/>
<rect x="573.22" y="1777.4" width="15" height="2.8"/>
<line x1="645.21" y1="1791" x2="645.21" y2="1777.4" stroke="#000" stroke-width="2.4"/>
<rect x="637.71" y="1776" width="15" height="2.8"/>
<line x1="709.7" y1="1791" x2="709.7" y2="1777.4" stroke="#000" stroke-width="2.4"/>
<rect x="702.2" y="1776" width="15" height="2.8"/>
<circle cx="193.78" cy="1771.9" r="11.75" fill="#fff" stroke="#000" stroke-width="2.7"/>
<circle cx="258.27" cy="1782.8" r="11.75" fill="#fff" stroke="#000" stroke-width="2.7"/>
<circle cx="322.76" cy="1791.6" r="11.75" fill="#fff" stroke="#000" stroke-width="2.7"/>
<circle cx="387.25" cy="1794.7" r="11.75" fill="#fff" stroke="#000" stroke-width="2.7"/>
<circle cx="451.74" cy="1794.7" r="11.75" fill="#fff" stroke="#000" stroke-width="2.7"/>
<circle cx="516.23" cy="1803.8" r="11.75" fill="#fff" stroke="#000" stroke-width="2.7"/>
<circle cx="580.72" cy="1802.9" r="11.75" fill="#fff" stroke="#000" stroke-width="2.7"/>
<circle cx="645.21" cy="1797.4" r="11.75" fill="#fff" stroke="#000" stroke-width="2.7"/>
<circle cx="709.7" cy="1796.5" r="11.75" fill="#fff" stroke="#000" stroke-width="2.7"/>
<circle cx="193.78" cy="1766.4" r="13.1"/>
<circle cx="258.27" cy="1777.4" r="13.1"/>
<circle cx="322.76" cy="1772.8" r="13.1"/>
<circle cx="387.25" cy="1780.1" r="13.1"/>
<circle cx="451.74" cy="1785.6" r="13.1"/>
<circle cx="516.23" cy="1789.2" r="13.1"/>
<circle cx="580.72" cy="1793.8" r="13.1"/>
<circle cx="645.21" cy="1791" r="13.1"/>
<circle cx="709.7" cy="1791" r="13.1"/>
<line x1="544.3" y1="1904.8" x2="610.3" y2="1904.8" stroke="#000" stroke-width="2.4" stroke-linecap="round"/>
<circle cx="577.5" cy="1904.8" r="10.15" fill="#fff" stroke="#000" stroke-width="2.4"/>
<text transform="translate(615.69 1916.1) scale(1 1.0450)" font-size="33.6">Control</text>
<line x1="544.3" y1="1951.6" x2="610.3" y2="1951.6" stroke="#000" stroke-width="2.4" stroke-linecap="round"/>
<circle cx="577.5" cy="1951.6" r="11.35"/>
<text transform="translate(615.85 1962.3) scale(1 1.0450)" font-size="33.6">Study</text>
<text transform="translate(1230.1 1644.4) scale(1 1.0450)" font-size="40.23">Body weight</text>
<text transform="translate(917.74 1705.9) scale(1.0382 1)" font-size="60.28" font-weight="bold">f</text>
<rect x="1071.9" y="2114.2" width="10.1" height="10.1"/>
<rect x="1092.7" y="2114.2" width="10.1" height="10.1"/>
<rect x="1468.5" y="2114.2" width="9.9" height="10.1"/>
<rect x="1489.23" y="2114.2" width="9.9" height="10.1"/>
<rect x="1509.96" y="2114.2" width="9.9" height="10.1"/>
<rect x="1530.69" y="2114.2" width="9.9" height="10.1"/>
<rect x="1551.42" y="2114.2" width="9.9" height="10.1"/>
<rect x="1572.15" y="2114.2" width="9.9" height="10.1"/>
<rect x="1592.88" y="2114.2" width="9.9" height="10.1"/>
<rect x="1613.61" y="2114.2" width="9.9" height="10.1"/>
<rect x="1143.8" y="2114.2" width="282.8" height="10.1"/>
<g stroke="#767676" stroke-width="2.9" fill="none">
<path d="M1058.2 1686.2V2131.7H1643"/>
<path d="M1050.2 2131.7H1058.2"/>
<path d="M1050.2 2020.32H1058.2"/>
<path d="M1050.2 1908.95H1058.2"/>
<path d="M1050.2 1797.58H1058.2"/>
<path d="M1050.2 1686.2H1058.2"/>
<path d="M1058.2 2131.7V2139.9"/>
<path d="M1123.18 2131.7V2139.9"/>
<path d="M1188.16 2131.7V2139.9"/>
<path d="M1253.13 2131.7V2139.9"/>
<path d="M1318.11 2131.7V2139.9"/>
<path d="M1383.09 2131.7V2139.9"/>
<path d="M1448.07 2131.7V2139.9"/>
<path d="M1513.04 2131.7V2139.9"/>
<path d="M1578.02 2131.7V2139.9"/>
<path d="M1643 2131.7V2139.9"/>
</g>
<text transform="translate(1019.19 2141.41) scale(1 1.0450)" font-size="27" font-weight="bold">0</text>
<text transform="translate(1004.18 2030.03) scale(1 1.0450)" font-size="27" font-weight="bold">10</text>
<text transform="translate(1004.18 1918.66) scale(1 1.0450)" font-size="27" font-weight="bold">20</text>
<text transform="translate(1004.18 1807.27) scale(1 1.0450)" font-size="27" font-weight="bold">30</text>
<text transform="translate(1004.18 1695.91) scale(1 1.0450)" font-size="27" font-weight="bold">40</text>
<text transform="translate(1083.2 2174) scale(1 1.0450)" font-size="27" font-weight="bold">0</text>
<text transform="translate(1147.69 2174) scale(1 1.0450)" font-size="27" font-weight="bold">1</text>
<text transform="translate(1213.21 2174) scale(1 1.0450)" font-size="27" font-weight="bold">2</text>
<text transform="translate(1278.29 2174) scale(1 1.0450)" font-size="27" font-weight="bold">3</text>
<text transform="translate(1342.96 2174) scale(1 1.0450)" font-size="27" font-weight="bold">4</text>
<text transform="translate(1408.03 2174) scale(1 1.0450)" font-size="27" font-weight="bold">5</text>
<text transform="translate(1473.04 2174) scale(1 1.0450)" font-size="27" font-weight="bold">6</text>
<text transform="translate(1538.04 2174) scale(1 1.0450)" font-size="27" font-weight="bold">7</text>
<text transform="translate(1602.99 2174) scale(1 1.0450)" font-size="27" font-weight="bold">8</text>
<text transform="translate(1312.15 2212.5) scale(1 1.0450)" font-size="33.56">Days</text>
<text transform="translate(973.6 2026.54) rotate(-90) scale(1 1.0450)" font-size="33.42">Body weight (g)</text>
<text transform="translate(1253.44 1727.7) scale(1 1.0450)" font-size="26.4">P = 0.823</text>
<text transform="translate(1375.57 1727.7) scale(1 1.0450)" font-size="26.4">(intervention)</text>
<text transform="translate(1060.44 2093.8) scale(1 1.0450)" font-size="37.37">PBS</text>
<text transform="translate(1241.51 2092.8) scale(1 1.0450)" font-size="37.12">CNO</text>
<text transform="translate(1500.71 2093.8) scale(1 1.0450)" font-size="37.69">PBS</text>
<polyline points="1090.18,1852.8 1155.27,1852.8 1220.36,1851.9 1285.45,1853.7 1350.54,1858.3 1415.63,1868.2 1480.72,1869.5 1545.81,1868.2 1610.9,1840.5" fill="none" stroke="#000" stroke-width="3.0" stroke-linejoin="round"/>
<polyline points="1090.18,1855.6 1155.27,1853 1220.36,1852 1285.45,1860.1 1350.54,1869.1 1415.63,1876.1 1480.72,1869.5 1545.81,1868.2 1610.9,1858.9" fill="none" stroke="#000" stroke-width="3.0" stroke-linejoin="round"/>
<line x1="1090.18" y1="1852.8" x2="1090.18" y2="1837.3" stroke="#000" stroke-width="2.4"/>
<rect x="1082.68" y="1835.9" width="15" height="2.8"/>
<line x1="1155.27" y1="1852.8" x2="1155.27" y2="1837.3" stroke="#000" stroke-width="2.4"/>
<rect x="1147.77" y="1835.9" width="15" height="2.8"/>
<line x1="1220.36" y1="1851.9" x2="1220.36" y2="1835" stroke="#000" stroke-width="2.4"/>
<rect x="1212.86" y="1833.6" width="15" height="2.8"/>
<line x1="1285.45" y1="1853.7" x2="1285.45" y2="1839.7" stroke="#000" stroke-width="2.4"/>
<rect x="1277.95" y="1838.3" width="15" height="2.8"/>
<line x1="1350.54" y1="1858.3" x2="1350.54" y2="1843.5" stroke="#000" stroke-width="2.4"/>
<rect x="1343.04" y="1842.1" width="15" height="2.8"/>
<line x1="1415.63" y1="1868.2" x2="1415.63" y2="1854.9" stroke="#000" stroke-width="2.4"/>
<rect x="1408.13" y="1853.5" width="15" height="2.8"/>
<line x1="1480.72" y1="1869.5" x2="1480.72" y2="1854.9" stroke="#000" stroke-width="2.4"/>
<rect x="1473.22" y="1853.5" width="15" height="2.8"/>
<line x1="1545.81" y1="1868.2" x2="1545.81" y2="1853.3" stroke="#000" stroke-width="2.4"/>
<rect x="1538.31" y="1851.9" width="15" height="2.8"/>
<line x1="1610.9" y1="1840.5" x2="1610.9" y2="1824.7" stroke="#000" stroke-width="2.4"/>
<rect x="1603.4" y="1823.3" width="15" height="2.8"/>
<line x1="1090.18" y1="1855.6" x2="1090.18" y2="1876.5" stroke="#000" stroke-width="2.4"/>
<rect x="1082.68" y="1875.1" width="15" height="2.8"/>
<line x1="1155.27" y1="1853" x2="1155.27" y2="1871.6" stroke="#000" stroke-width="2.4"/>
<rect x="1147.77" y="1870.2" width="15" height="2.8"/>
<line x1="1220.36" y1="1852" x2="1220.36" y2="1868.3" stroke="#000" stroke-width="2.4"/>
<rect x="1212.86" y="1866.9" width="15" height="2.8"/>
<line x1="1285.45" y1="1860.1" x2="1285.45" y2="1875.6" stroke="#000" stroke-width="2.4"/>
<rect x="1277.95" y="1874.2" width="15" height="2.8"/>
<line x1="1350.54" y1="1869.1" x2="1350.54" y2="1882" stroke="#000" stroke-width="2.4"/>
<rect x="1343.04" y="1880.6" width="15" height="2.8"/>
<line x1="1415.63" y1="1876.1" x2="1415.63" y2="1887.9" stroke="#000" stroke-width="2.4"/>
<rect x="1408.13" y="1886.5" width="15" height="2.8"/>
<line x1="1480.72" y1="1869.5" x2="1480.72" y2="1885" stroke="#000" stroke-width="2.4"/>
<rect x="1473.22" y="1883.6" width="15" height="2.8"/>
<line x1="1545.81" y1="1868.2" x2="1545.81" y2="1881" stroke="#000" stroke-width="2.4"/>
<rect x="1538.31" y="1879.6" width="15" height="2.8"/>
<line x1="1610.9" y1="1858.9" x2="1610.9" y2="1870.1" stroke="#000" stroke-width="2.4"/>
<rect x="1603.4" y="1868.7" width="15" height="2.8"/>
<circle cx="1090.18" cy="1852.8" r="11.75" fill="#fff" stroke="#000" stroke-width="2.7"/>
<circle cx="1155.27" cy="1852.8" r="11.75" fill="#fff" stroke="#000" stroke-width="2.7"/>
<circle cx="1220.36" cy="1851.9" r="11.75" fill="#fff" stroke="#000" stroke-width="2.7"/>
<circle cx="1285.45" cy="1853.7" r="11.75" fill="#fff" stroke="#000" stroke-width="2.7"/>
<circle cx="1350.54" cy="1858.3" r="11.75" fill="#fff" stroke="#000" stroke-width="2.7"/>
<circle cx="1415.63" cy="1868.2" r="11.75" fill="#fff" stroke="#000" stroke-width="2.7"/>
<circle cx="1480.72" cy="1869.5" r="11.75" fill="#fff" stroke="#000" stroke-width="2.7"/>
<circle cx="1545.81" cy="1868.2" r="11.75" fill="#fff" stroke="#000" stroke-width="2.7"/>
<circle cx="1610.9" cy="1840.5" r="11.75" fill="#fff" stroke="#000" stroke-width="2.7"/>
<circle cx="1090.18" cy="1855.6" r="13.1"/>
<circle cx="1155.27" cy="1853" r="13.1"/>
<circle cx="1220.36" cy="1852" r="13.1"/>
<circle cx="1285.45" cy="1860.1" r="13.1"/>
<circle cx="1350.54" cy="1869.1" r="13.1"/>
<circle cx="1415.63" cy="1876.1" r="13.1"/>
<circle cx="1480.72" cy="1869.5" r="13.1"/>
<circle cx="1545.81" cy="1868.2" r="13.1"/>
<circle cx="1610.9" cy="1858.9" r="13.1"/>
<line x1="1442.8" y1="1933.7" x2="1508.4" y2="1933.7" stroke="#000" stroke-width="2.4" stroke-linecap="round"/>
<circle cx="1476" cy="1933.7" r="10.15" fill="#fff" stroke="#000" stroke-width="2.4"/>
<text transform="translate(1514.29 1944.4) scale(1 1.0450)" font-size="33.6">Control</text>
<line x1="1442.8" y1="1977.4" x2="1508.4" y2="1977.4" stroke="#000" stroke-width="2.4" stroke-linecap="round"/>
<circle cx="1476" cy="1977.4" r="11.35"/>
<text transform="translate(1514.45 1988.6) scale(1 1.0450)" font-size="33.6">Study</text>
</svg></body></html>
